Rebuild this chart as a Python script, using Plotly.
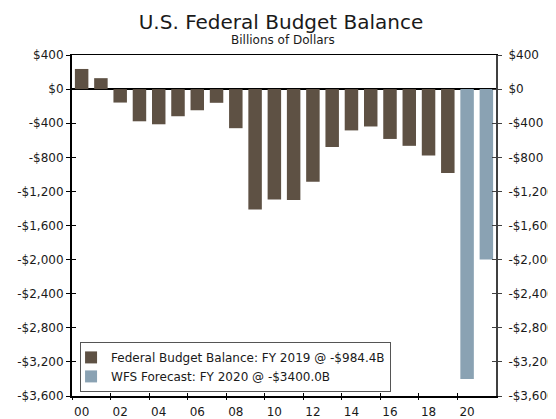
import plotly.graph_objects as go

# ---- data ----
years_actual = list(range(2000, 2020))
balance_actual = [236.2, 128.2, -157.8, -377.6, -412.7, -318.3, -248.2, -160.7, -458.6,
                  -1412.7, -1294.4, -1299.6, -1087.0, -679.5, -484.6, -438.5, -584.7,
                  -665.4, -779.1, -984.4]
years_forecast = [2020, 2021]
balance_forecast = [-3400.0, -2000.0]

name_actual = "Federal Budget Balance: FY 2019 @ -$984.4B"
name_forecast = "WFS Forecast: FY 2020 @ -$3400.0B"

x_tick_vals = list(range(2000, 2021, 2))
x_tick_labels = ["00", "02", "04", "06", "08", "10", "12", "14", "16", "18", "20"]
x_boundary_ticks = [y - 0.5 for y in range(2000, 2021, 2)]

y_tick_vals = [400, 0, -400, -800, -1200, -1600, -2000, -2400, -2800, -3200, -3600]
y_tick_labels = ["$400", "$0", "-$400", "-$800", "-$1,200", "-$1,600", "-$2,000",
                 "-$2,400", "-$2,800", "-$3,200", "-$3,600"]

title_text = "U.S. Federal Budget Balance"
subtitle_text = "Billions of Dollars"

# ---- style ----
FONT = "DejaVu Sans"
BROWN = "#5e5144"
BLUE = "#8aa2b3"
TXT = "#1a1a1a"
x_range = [1999.5, 2021.5]
y_range = [-3600, 400]

fig = go.Figure()
fig.add_trace(go.Bar(x=years_actual, y=balance_actual, name=name_actual,
                     marker=dict(color=BROWN, line=dict(width=0)), width=0.7))
fig.add_trace(go.Bar(x=years_forecast, y=balance_forecast, name=name_forecast,
                     marker=dict(color=BLUE, line=dict(width=0)), width=0.7))

# invisible helper traces so overlay axes are drawn
for i in (2, 3, 4):
    fig.add_trace(go.Scatter(x=[x_range[0]], y=[0], xaxis=f"x{i}", yaxis=f"y{i}",
                             mode="markers", marker=dict(opacity=0, size=1),
                             showlegend=False, hoverinfo="skip"))

tickfont = dict(family=FONT, size=12, color=TXT)

# the page body adds an 8px offset, margins compensate for it
fig.update_layout(
    width=556, height=419,
    margin=dict(l=64, r=68, t=47, b=31, pad=0, autoexpand=False),
    paper_bgcolor="white", plot_bgcolor="white",
    barmode="overlay",
    font=dict(family=FONT, size=12, color=TXT),
    title=dict(text=title_text, font=dict(family=FONT, size=20, color=TXT),
               xref="paper", x=0.493, xanchor="center",
               yref="container", y=1 - 7 / 419, yanchor="top", automargin=False),
    annotations=[dict(text=subtitle_text, xref="paper", yref="paper",
                      x=0.4965, y=1.044, xanchor="center", yanchor="middle",
                      showarrow=False, font=dict(family=FONT, size=12, color=TXT))],
    showlegend=True,
    legend=dict(x=0.019, y=0.012, xanchor="left", yanchor="bottom",
                bordercolor="#555555", borderwidth=1, bgcolor="white",
                font=dict(family=FONT, size=12, color=TXT), indentation=-10,
                itemwidth=30, tracegroupgap=0, traceorder="normal"),
    xaxis=dict(range=x_range, tickmode="array", tickvals=x_tick_vals, ticktext=x_tick_labels,
               ticks="", showgrid=False, zeroline=False, showline=True, automargin=False,
               linecolor="black", linewidth=2, tickfont=tickfont, ticklabelstandoff=4,
               fixedrange=True),
    yaxis=dict(range=y_range, tickmode="array", tickvals=y_tick_vals, ticktext=y_tick_labels,
               ticks="outside", ticklen=4, tickwidth=1, tickcolor="black", automargin=False,
               showgrid=False, zeroline=True, zerolinecolor="black", zerolinewidth=1.5,
               showline=True, linecolor="black", linewidth=2, tickfont=tickfont,
               fixedrange=True),
    xaxis2=dict(range=x_range, overlaying="x", anchor="y2", side="bottom", automargin=False,
                tickmode="array", tickvals=x_boundary_ticks, showticklabels=False,
                ticks="outside", ticklen=3, tickwidth=1, tickcolor="black",
                showgrid=False, zeroline=False, showline=False),
    yaxis2=dict(range=y_range, overlaying="y", anchor="x2", side="right", automargin=False,
                tickmode="array", tickvals=y_tick_vals, ticktext=y_tick_labels,
                ticks="outside", ticklen=4, tickwidth=1, tickcolor="#404040",
                showgrid=False, zeroline=False, showline=True, linecolor="#404040",
                linewidth=2, tickfont=tickfont, ticklabelstandoff=4),
    xaxis3=dict(range=x_range, overlaying="x", anchor="y3", side="bottom", automargin=False,
                tickmode="array", tickvals=x_boundary_ticks, showticklabels=False,
                ticks="inside", ticklen=3, tickwidth=1, tickcolor="black",
                showgrid=False, zeroline=False, showline=False),
    yaxis3=dict(range=y_range, overlaying="y", anchor="x3", side="left", automargin=False,
                tickmode="array", tickvals=y_tick_vals, showticklabels=False,
                ticks="inside", ticklen=4, tickwidth=1, tickcolor="black",
                showgrid=False, zeroline=False, showline=False),
    xaxis4=dict(range=x_range, overlaying="x", anchor="y4", side="top", automargin=False,
                showticklabels=False, ticks="", showgrid=False, zeroline=False,
                showline=True, linecolor="black", linewidth=1),
    yaxis4=dict(range=y_range, overlaying="y", anchor="x4", side="right", automargin=False,
                tickmode="array", tickvals=y_tick_vals, showticklabels=False,
                ticks="inside", ticklen=4, tickwidth=1, tickcolor="#404040",
                showgrid=False, zeroline=False, showline=False),
)

fig.write_html("out.html")
